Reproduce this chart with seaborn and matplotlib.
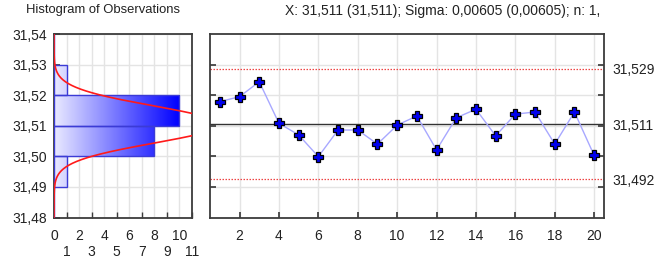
import numpy as np
import pandas as pd
import matplotlib
matplotlib.use("Agg")
import matplotlib.pyplot as plt
import seaborn as sns
from matplotlib.colors import LinearSegmentedColormap

# ---- data ----
samples = list(range(1, 21))
observations = [31.5179, 31.5195, 31.5244, 31.5108, 31.5070, 31.4999, 31.5086, 31.5086,
                31.5040, 31.5102, 31.5132, 31.5021, 31.5126, 31.5154, 31.5067, 31.5138,
                31.5145, 31.5040, 31.5145, 31.5003]
sigma = 0.00605
control_limits = [31.4925, 31.5105, 31.5286]          # LCL, center, UCL
control_labels = ["31,492", "31,511", "31,529"]
y_ticks = [31.48, 31.49, 31.50, 31.51, 31.52, 31.53, 31.54]
y_tick_labels = ["31,48", "31,49", "31,50", "31,51", "31,52", "31,53", "31,54"]
hist_bin_width = 0.01
hist_title = "Histogram of Observations"
chart_title = "X: 31,511 (31,511); Sigma: 0,00605 (0,00605); n: 1,"

sns.set_theme(style="white")
plt.rcParams['font.family'] = ['Liberation Sans', 'DejaVu Sans']
plt.rcParams['font.size'] = 9.5

W, H = 657, 267
fig = plt.figure(figsize=(W / 100, H / 100), dpi=100)

spine_c = "#3c3c3c"
grid_c = "#e4e4e4"
tick_fs = 10
bot, top = 217.5, 34
axL = fig.add_axes([54 / W, (H - bot) / H, (192 - 54) / W, (bot - top) / H])
axR = fig.add_axes([210 / W, (H - bot) / H, (604 - 210) / W, (bot - top) / H])

ylo, yhi = y_ticks[0], y_ticks[-1]

# ---- histogram ----
df = pd.DataFrame({"obs": observations})
sns.histplot(data=df, y="obs", binwidth=hist_bin_width, binrange=(ylo, yhi), ax=axL,
             edgecolor="#3b3bd6", linewidth=1.0, facecolor="none", zorder=3)
cmap = LinearSegmentedColormap.from_list("g", ["#eaeaff", "#0000ff"])
counts = [p.get_width() for p in axL.patches]
maxc = max(counts)
grad = np.linspace(0, 1, 256).reshape(1, -1)
for p in list(axL.patches):
    if p.get_width() <= 0:
        continue
    im = axL.imshow(grad, extent=[0, maxc, ylo, yhi], aspect="auto", cmap=cmap,
                    origin="lower", zorder=2, interpolation="bilinear")
    im.set_clip_path(p)

# normal curve
yy = np.linspace(ylo, yhi, 400)
mu = np.mean(observations)
n = len(observations)
xx = n * hist_bin_width / (sigma * np.sqrt(2 * np.pi)) * np.exp(-0.5 * ((yy - mu) / sigma) ** 2)
sns.lineplot(x=xx, y=yy, sort=False, orient="y", color="#ff1a1a", linewidth=1.2, ax=axL, zorder=4)

axL.set_xlim(0, 11)
axL.set_ylim(ylo, yhi)
axL.set_xticks([0, 2, 4, 6, 8, 10])
axL.set_xticks([1, 3, 5, 7, 9, 11], minor=True)
axL.set_xticklabels(["0", "2", "4", "6", "8", "10"])
axL.set_xticklabels(["1", "3", "5", "7", "9", "11"], minor=True)
axL.set_yticks(y_ticks)
axL.set_yticklabels(y_tick_labels)
axL.tick_params(axis="x", which="major", direction="in", length=4, pad=8, color=spine_c,
                labelsize=tick_fs, labelcolor="#222222")
axL.tick_params(axis="x", which="minor", direction="in", length=4, pad=19.5, color=spine_c,
                labelsize=tick_fs, labelcolor="#222222", bottom=True)
axL.tick_params(axis="y", direction="in", length=4, pad=5, color=spine_c,
                labelsize=tick_fs, labelcolor="#222222", left=True)
axL.grid(True, which="both", color=grid_c, linewidth=1.0, zorder=0)
axL.set_axisbelow(True)
axL.set_xlabel("")
axL.set_ylabel("")

# ---- control chart ----
axR.axhline(control_limits[2], color="#ee4444", linestyle=(0, (1.2, 1.2)), linewidth=0.9, zorder=2)
axR.axhline(control_limits[0], color="#ee4444", linestyle=(0, (1.2, 1.2)), linewidth=0.9, zorder=2)
axR.axhline(control_limits[1], color="#333333", linewidth=1.0, zorder=2)
sns.lineplot(x=samples, y=observations, color="#a8a8ff", linewidth=1.0, ax=axR, zorder=3,
             marker="P", markersize=7.5, markerfacecolor="#0000ee", markeredgecolor="#000000",
             markeredgewidth=0.9)
axR.set_xlim(0.5, 20.5)
axR.set_ylim(ylo, yhi)
axR.set_xticks(samples[1::2])
axR.set_yticks(y_ticks[1:-1])
axR.set_yticklabels([])
axR.set_yticks(control_limits, minor=True)
axR.set_yticklabels(control_labels, minor=True)
axR.tick_params(axis="x", direction="in", length=4, pad=8, color=spine_c,
                labelsize=tick_fs, labelcolor="#222222", bottom=True)
axR.tick_params(axis="y", which="major", direction="in", length=4, color=spine_c,
                left=True, right=True, labelleft=False)
axR.tick_params(axis="y", which="minor", length=0, pad=6, left=False, right=False,
                labelleft=False, labelright=True, labelsize=tick_fs, labelcolor="#222222")
axR.grid(True, which="major", color=grid_c, linewidth=1.0, zorder=0)
axR.set_axisbelow(True)
axR.set_xlabel("")
axR.set_ylabel("")

for ax in (axL, axR):
    for s in ax.spines.values():
        s.set_visible(True)
        s.set_color(spine_c)
        s.set_linewidth(1.3)

fig.text(103.5 / W, 1 - 9.5 / H, hist_title, ha="center", va="center", fontsize=9.4, color="#222222")
fig.text(442.5 / W, 1 - 11 / H, chart_title, ha="center", va="center", fontsize=10, color="#222222")

fig.savefig("out.png", dpi=100, facecolor="white")
